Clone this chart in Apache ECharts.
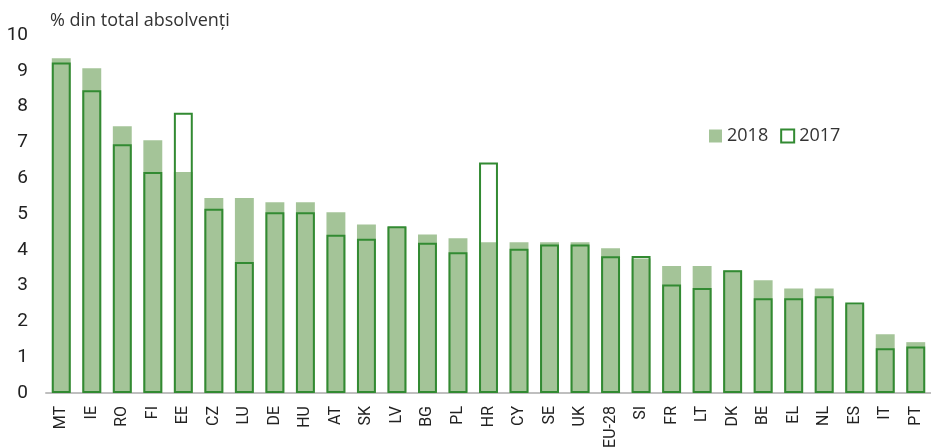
<!DOCTYPE html>
<html>
<head>
<meta charset="utf-8">
<script src="https://cdn.jsdelivr.net/npm/echarts@6/dist/echarts.min.js"></script>
<style>
  html, body { margin: 0; padding: 0; background: #fff; }
  #container { width: 931px; height: 448px; }
</style>
</head>
<body>
<div id="container"></div>
<script>
var countries = ['MT', 'IE', 'RO', 'FI', 'EE', 'CZ', 'LU', 'DE', 'HU', 'AT', 'SK', 'LV', 'BG', 'PL', 'HR',
    'CY', 'SE', 'UK', 'EU-28', 'SI', 'FR', 'LT', 'DK', 'BE', 'EL', 'NL', 'ES', 'IT', 'PT'];
var values2018 = [9.35, 9.07, 7.45, 7.06, 6.17, 5.45, 5.45, 5.33, 5.33, 5.05, 4.71, 4.64, 4.43, 4.32, 4.21,
    4.21, 4.21, 4.21, 4.04, 3.76, 3.55, 3.55, 3.42, 3.15, 2.92, 2.92, 2.47, 1.64, 1.42];
var values2017 = [9.23, 8.46, 6.95, 6.17, 7.83, 5.15, 3.66, 5.05, 5.05, 4.42, 4.31, 4.66, 4.2, 3.93, 6.44,
    4.03, 4.15, 4.15, 3.82, 3.83, 3.03, 2.93, 3.43, 2.65, 2.65, 2.7, 2.53, 1.25, 1.3];

var fillGreen = '#a4c498';
var darkGreen = '#328a32';
var narrowFont = 'Roboto';

var dom = document.getElementById('container');
var myChart = echarts.init(dom, null, { renderer: 'canvas' });

var option = {
    animation: false,
    title: {
        text: '% din total absolvenți',
        left: 45,
        top: 7,
        textStyle: {
            fontFamily: 'Open Sans',
            fontWeight: 'normal',
            fontSize: 18,
            color: '#333'
        }
    },
    legend: {
        data: ['2018', '2017'],
        left: 704,
        top: 122,
        icon: 'rect',
        itemWidth: 13,
        itemHeight: 13,
        itemGap: 12,
        textStyle: {
            fontFamily: 'Open Sans',
            fontSize: 18,
            color: '#333'
        }
    },
    grid: {
        left: 46,
        right: 0,
        top: 35,
        bottom: 55,
        containLabel: false,
        outerBoundsMode: 'none'
    },
    xAxis: {
        type: 'category',
        data: countries,
        axisLine: { lineStyle: { color: '#bfbfbf', width: 2 } },
        axisTick: { alignWithLabel: false, length: 5, lineStyle: { color: '#bfbfbf', width: 2 } },
        axisLabel: {
            rotate: 90,
            interval: 0,
            margin: 13,
            fontFamily: narrowFont,
            fontSize: 16,
            color: '#222'
        }
    },
    yAxis: {
        type: 'value',
        min: 0,
        max: 10,
        interval: 1,
        splitLine: { show: false },
        axisLine: { show: false },
        axisTick: { show: false },
        axisLabel: {
            margin: 18,
            fontFamily: narrowFont,
            fontSize: 19,
            color: '#222'
        }
    },
    series: [
        {
            name: '2018',
            type: 'bar',
            data: values2018,
            barWidth: '62%',
            itemStyle: { color: fillGreen }
        },
        {
            name: '2017',
            type: 'bar',
            data: values2017,
            barWidth: '62%',
            barGap: '-100%',
            itemStyle: {
                color: 'rgba(0,0,0,0)',
                borderColor: darkGreen,
                borderWidth: 2
            }
        }
    ]
};

myChart.setOption(option);
window.addEventListener('resize', myChart.resize);
</script>
</body>
</html>
